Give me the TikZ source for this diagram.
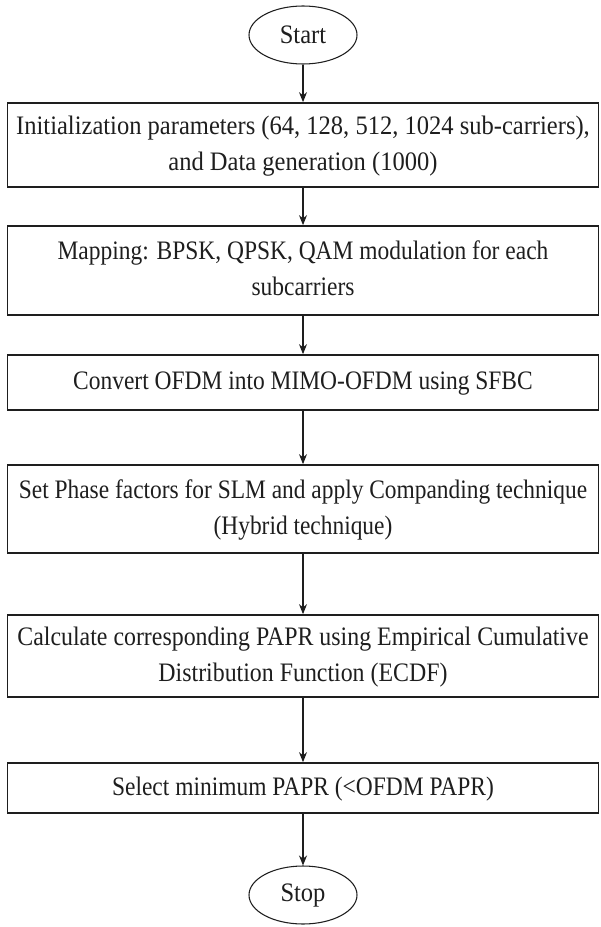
\documentclass[tikz,border=0pt]{standalone}
\usepackage{fontspec}
\setmainfont{Liberation Serif}
\usetikzlibrary{shapes.geometric,arrows.meta}
\definecolor{ink}{HTML}{1E1E1E}
\newcommand{\boxtext}[2][0.88]{\scalebox{#1}[1]{\begin{tabular}{@{}c@{}}#2\end{tabular}}}
\begin{document}
\begin{tikzpicture}[x=0.75pt,y=-0.75pt,
  stepbox/.style={draw=ink,line width=1.3pt,rectangle,minimum width=443.25pt,inner sep=0pt,
    font=\fontsize{20}{27}\selectfont,text=ink},
  term/.style={draw=ink,line width=0.8pt,ellipse,minimum width=81pt,minimum height=43.5pt,inner sep=0pt,
    font=\fontsize{20}{27}\selectfont,text=ink},
  flow/.style={draw=ink,line width=0.8pt,-{Stealth[length=7.5pt,width=6pt]}}]
\useasboundingbox (0,0) rectangle (600,927);
\node[term] (start) at (303,35) {\scalebox{0.92}[1]{Start}};
\node[stepbox,minimum height=63pt] (b1) at (303,145)
  {\boxtext[0.92]{Initialization parameters (64, 128, 512, 1024 sub-carriers),\\and Data generation (1000)}};
\node[stepbox,minimum height=66.75pt] (b2) at (303,270.5)
  {\boxtext{Mapping: BPSK, QPSK, QAM modulation for each\\subcarriers}};
\node[stepbox,minimum height=41.25pt] (b3) at (303,382.5)
  {\boxtext{Convert OFDM into MIMO-OFDM using SFBC}};
\node[stepbox,minimum height=66pt] (b4) at (303,509)
  {\boxtext[0.878]{Set Phase factors for SLM and apply Companding technique\\(Hybrid technique)}};
\node[stepbox,minimum height=61.5pt] (b5) at (303,656)
  {\boxtext[0.895]{Calculate corresponding PAPR using Empirical Cumulative\\Distribution Function (ECDF)}};
\node[stepbox,minimum height=37.5pt] (b6) at (303,788)
  {\boxtext{Select minimum PAPR (<OFDM PAPR)}};
\node[term] (stop) at (303,895) {\scalebox{0.92}[1]{Stop}};
\draw[flow] (start) -- (b1);
\draw[flow] (b1) -- (b2);
\draw[flow] (b2) -- (b3);
\draw[flow] (b3) -- (b4);
\draw[flow] (b4) -- (b5);
\draw[flow] (b5) -- (b6);
\draw[flow] (b6) -- (stop);
\end{tikzpicture}
\end{document}
